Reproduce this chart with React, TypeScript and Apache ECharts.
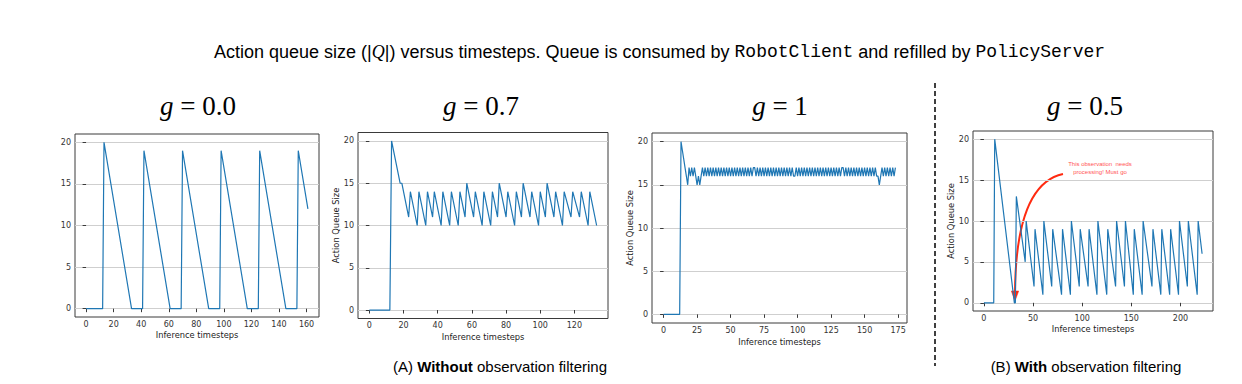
import React, { useEffect, useRef } from "react";
import * as echarts from "echarts";

// ---------- data ----------
// (A) g = 0.0 : vertices [timestep, queue size]
const g00Points: number[][] = [
  [0, 0], [12, 0], [13, 20], [33, 0], [41, 0], [42, 19], [61, 0], [69, 0], [70, 19],
  [89, 0], [97, 0], [98, 19], [117, 0], [125, 0], [126, 19], [145, 0], [153, 0],
  [154, 19], [161, 12],
];

// (A) g = 0.7 : vertices [timestep, queue size]
const g07Points: number[][] = [
  [0, 0], [12, 0], [13, 20], [18, 15], [19, 15], [23, 11], [24, 14], [28, 10], [29, 14],
  [33, 10], [34, 14], [37, 11], [38, 14], [42, 10], [43, 14], [47, 10], [48, 14],
  [52, 10], [53, 14], [56, 11], [57, 15], [61, 11], [62, 14], [66, 10], [67, 14],
  [71, 10], [72, 14], [75, 11], [76, 15], [80, 11], [81, 14], [85, 10], [86, 14],
  [89, 11], [90, 15], [94, 11], [95, 14], [99, 10], [100, 14], [103, 11], [104, 15],
  [108, 11], [109, 14], [113, 10], [114, 14], [118, 11], [119, 14], [123, 11],
  [124, 14], [128, 10], [129, 14], [133, 10],
];

// (A) g = 1 : queue size at each timestep 0..173
const g10Values: number[] = [
  0, 0, 0, 0, 0, 0, 0, 0, 0, 0, 0, 0, 0,
  20, 19, 18, 17, 16, 15,
  17, 16, 17, 16, 17, 16, 15, 16, 15, 16, 17,
  16, 17, 16, 17, 16, 17, 16, 17, 16, 17, 16, 17, 16, 17, 16, 17, 16, 17, 16, 17,
  16, 17, 16, 17, 16, 17, 16, 17, 16, 17, 16, 17, 16, 17, 16, 17, 16, 17,
  17,
  16, 17, 16, 17, 16, 17, 16, 17, 16, 17, 16, 17, 16, 17,
  16, 17, 16, 17, 16, 17, 16, 17, 16, 17, 16, 17, 16, 17,
  16, 16,
  17, 16, 17, 16, 17, 16, 17, 16, 17, 16, 17, 16, 17, 16, 17, 16, 17, 16,
  17, 16, 17, 16, 17, 16, 17, 16, 17, 16, 17, 16, 17, 16, 17, 16, 17,
  17,
  16, 17, 16, 17, 16, 17, 16, 17, 16, 17, 16, 17,
  16, 17, 16, 17, 16, 17, 16, 17, 16, 17, 16, 17, 16,
  16, 15, 16, 17, 16, 17, 16, 17, 16, 17, 16, 17, 16, 17,
];

// (B) g = 0.5 : vertices [timestep, queue size]
const g05Points: number[][] = [
  [0, 0], [10, 0], [11, 20], [31, 0], [32, 0], [33, 13], [42, 5], [43, 10], [51, 2],
  [52, 9], [60, 1], [61, 10], [69, 2], [70, 9], [79, 1], [80, 9], [88, 1], [89, 10],
  [97, 2], [98, 9], [106, 2], [107, 9], [115, 1], [116, 10], [125, 1], [126, 9],
  [134, 2], [135, 10], [143, 2], [144, 10], [152, 1], [153, 9], [161, 1], [162, 10],
  [171, 2], [172, 9], [180, 1], [181, 9], [189, 1], [190, 9], [198, 1], [199, 10],
  [207, 2], [208, 10], [217, 1], [218, 10], [222, 6],
];

// tick labels
const xTicksG00 = [0, 20, 40, 60, 80, 100, 120, 140, 160];
const xTicksG07 = [0, 20, 40, 60, 80, 100, 120];
const xTicksG10 = [0, 25, 50, 75, 100, 125, 150, 175];
const xTicksG05 = [0, 50, 100, 150, 200];
const yTicks = [0, 5, 10, 15, 20];

const panelTitles = ["0.0", "0.7", "1", "0.5"];
const xAxisName = "Inference timesteps";
const yAxisName = "Action Queue Size";

// ---------- layout ----------
const panels = [
  { data: g00Points, ticks: xTicksG00, left: 75, top: 134, width: 244, height: 183, xGap: 13.5, yGap: 16, yName: false, titleX: 198 },
  { data: g07Points, ticks: xTicksG07, left: 358, top: 132.5, width: 250, height: 186, xGap: 14.5, yGap: 16, yName: true, titleX: 481 },
  { data: g10Values.map((v, i) => [i, v]), ticks: xTicksG10, left: 652, top: 133, width: 255, height: 190, xGap: 15, yGap: 17, yName: true, titleX: 780 },
  { data: g05Points, ticks: xTicksG05, left: 973, top: 131, width: 240, height: 180, xGap: 14, yGap: 16, yName: true, titleX: 1085 },
];

const SANS = "'Liberation Sans', Arial, Helvetica, sans-serif";
const MONO = "'Liberation Mono', 'DejaVu Sans Mono', monospace";
const SERIF = "'Liberation Serif', 'DejaVu Serif', serif";
const MPL = "'DejaVu Sans', sans-serif";

function buildOption() {
  const grid: any[] = [];
  const xAxis: any[] = [];
  const yAxis: any[] = [];
  const series: any[] = [];
  panels.forEach((p, i) => {
    const xs = p.data.map((d) => d[0]);
    const dmin = Math.min(...xs);
    const dmax = Math.max(...xs);
    const pad = (dmax - dmin) * 0.05;
    grid.push({
      left: p.left, top: p.top, width: p.width, height: p.height,
      show: true, borderColor: "#3a3a3a", borderWidth: 1, backgroundColor: "transparent",
    });
    xAxis.push({
      type: "value", gridIndex: i, min: dmin - pad, max: dmax + pad,
      axisLine: { show: false },
      axisTick: { show: true, length: 3.5, lineStyle: { color: "#3a3a3a", width: 1 }, customValues: p.ticks },
      axisLabel: { customValues: p.ticks, fontSize: 8, color: "#333", margin: 3, fontFamily: MPL },
      splitLine: { show: false },
      name: xAxisName, nameLocation: "middle", nameGap: p.xGap,
      nameTextStyle: { fontSize: 8.3, color: "#222", fontFamily: MPL },
    });
    yAxis.push({
      type: "value", gridIndex: i, min: -1, max: 21,
      axisLine: { show: false },
      axisTick: { show: true, length: 3.5, lineStyle: { color: "#3a3a3a", width: 1 }, customValues: yTicks },
      axisLabel: { customValues: yTicks, fontSize: 8, color: "#333", margin: 4, fontFamily: MPL },
      splitLine: { show: true, lineStyle: { color: "#cfcfcf", width: 1 } },
      name: p.yName ? yAxisName : "", nameLocation: "middle", nameGap: p.yGap,
      nameTextStyle: { fontSize: 8.3, color: "#222", fontFamily: MPL },
    });
    series.push({
      type: "line", xAxisIndex: i, yAxisIndex: i, data: p.data,
      symbol: "none", showSymbol: false, clip: true,
      lineStyle: { color: "#1f77b4", width: 1.2 },
      emphasis: { disabled: true },
    });
  });

  const graphic: any[] = [
    {
      type: "text", x: 659.5, y: 52,
      style: {
        text: "{a|Action queue size (|}{q|Q}{a||) versus timesteps. Queue is consumed by }{m|RobotClient}{a| and refilled by }{m|PolicyServer}",
        align: "center", verticalAlign: "middle",
        rich: {
          a: { fontFamily: SANS, fontSize: 18, fill: "#000" },
          q: { fontFamily: SERIF, fontStyle: "italic", fontSize: 18, fill: "#000" },
          m: { fontFamily: MONO, fontSize: 18, fill: "#000" },
        },
      },
    },
    ...panels.map((p, i) => ({
      type: "text", x: p.titleX, y: 106,
      style: {
        text: `{g|g}{n| = ${panelTitles[i]}}`,
        align: "center", verticalAlign: "middle",
        rich: {
          g: { fontFamily: SERIF, fontStyle: "italic", fontSize: 27, fill: "#000" },
          n: { fontFamily: SERIF, fontSize: 27, fill: "#000" },
        },
      },
    })),
    {
      type: "line", shape: { x1: 935, y1: 83, x2: 935, y2: 366 },
      style: { stroke: "#000", lineWidth: 1.5, lineDash: [5, 3] },
    },
    {
      type: "text", x: 500, y: 366,
      style: {
        text: "{n|(A) }{b|Without}{n| observation filtering}",
        align: "center", verticalAlign: "middle",
        rich: {
          n: { fontFamily: SANS, fontSize: 15, fill: "#000" },
          b: { fontFamily: SANS, fontSize: 15, fontWeight: "bold", fill: "#000" },
        },
      },
    },
    {
      type: "text", x: 1086, y: 366,
      style: {
        text: "{n|(B) }{b|With}{n| observation filtering}",
        align: "center", verticalAlign: "middle",
        rich: {
          n: { fontFamily: SANS, fontSize: 15, fill: "#000" },
          b: { fontFamily: SANS, fontSize: 15, fontWeight: "bold", fill: "#000" },
        },
      },
    },
    {
      type: "text", x: 1100, y: 168,
      style: {
        text: "This observation  needs\nprocessing! Must go",
        align: "center", verticalAlign: "middle",
        fontFamily: SANS, fontSize: 6, lineHeight: 8, fill: "#ff5555",
      },
    },
    {
      type: "bezierCurve",
      shape: { x1: 1063, y1: 174, cpx1: 1016, cpy1: 184, x2: 1015, y2: 292 },
      style: { stroke: "#ff2a10", lineWidth: 2, fill: "none" },
    },
    {
      type: "polygon",
      shape: { points: [[1011.3, 291], [1018.7, 291], [1015, 301]] },
      style: { fill: "#ff2a10", stroke: "#ff2a10", lineWidth: 0.5 },
    },
  ];

  return { animation: false, backgroundColor: "#fff", grid, xAxis, yAxis, series, graphic };
}

export default function App() {
  const ref = useRef<HTMLDivElement>(null);
  useEffect(() => {
    const chart = echarts.init(ref.current as HTMLDivElement, null, { renderer: "svg" });
    chart.setOption(buildOption() as any);
    return () => chart.dispose();
  }, []);
  return (
    <div
      ref={ref}
      style={{ position: "absolute", left: 0, top: 0, width: 1242, height: 384, background: "#fff" }}
    />
  );
}
